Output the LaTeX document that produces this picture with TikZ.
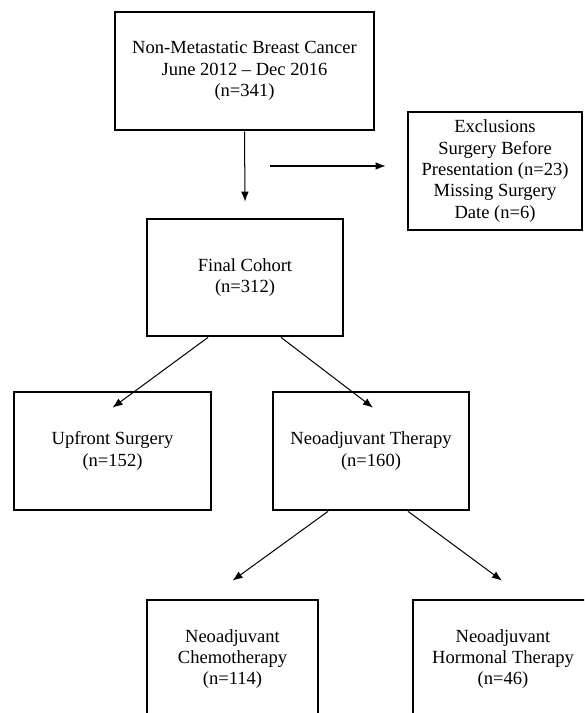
\documentclass[tikz,border=0pt]{standalone}
\usepackage{fontspec}
\setmainfont{Liberation Serif}
\usetikzlibrary{arrows.meta, calc, positioning}

\tikzset{
  box/.style={draw, rectangle, line width=1.8pt, minimum height=76.3pt, inner sep=0pt, align=center},
  flow/.style={-{Latex[length=6.5pt, width=5pt]}, line width=0.65pt}
}

\begin{document}
\begin{tikzpicture}[x=0.647pt, y=-0.647pt, font=\fontsize{12}{13.8}\selectfont]

\useasboundingbox (0,0) rectangle (584,713);
\clip (0,0) rectangle (584,713);

\node[box, minimum width=167.6pt] (cancer) at (244.5,71) {Non-Metastatic Breast Cancer\\June 2012 – Dec 2016\\(n=341)};
\node[box, minimum width=112.6pt] (excl) at (495,171) {Exclusions\\Surgery Before\\Presentation (n=23)\\Missing Surgery\\Date (n=6)};
\node[box, minimum width=126.8pt, minimum height=75.7pt] (cohort) at (245,277.5) {Final Cohort\\(n=312)};
\node[box, minimum width=127.5pt] (upfront) at (112.5,451) {Upfront Surgery\\(n=152)};
\node[box, minimum width=126.8pt] (neo) at (371,451) {Neoadjuvant Therapy\\(n=160)};
\node[box, minimum width=110.6pt] (chemo) at (232.5,659) {Neoadjuvant\\Chemotherapy\\(n=114)};
\node[box, minimum width=116.5pt] (hormonal) at (503,659) {Neoadjuvant\\Hormonal Therapy\\(n=46)};

\coordinate (split) at (270,166);

\draw[flow] (cancer.south) -- ($(cohort.north)+(0,-16)$);
\draw[flow] (split) -- ($(split -| excl.west)+(-21,0)$);
\draw[flow] ($(cohort.south)+(-37,0)$) -- ($(upfront.north)+(0,17)$);
\draw[flow] ($(cohort.south)+(36,0)$) -- ($(neo.north)+(2,17)$);
\draw[flow] ($(neo.south)+(-43,0)$) -- ($(chemo.north)+(0,-18)$);
\draw[flow] ($(neo.south)+(37,0)$) -- ($(hormonal.north)+(-1,-18)$);

\end{tikzpicture}
\end{document}
